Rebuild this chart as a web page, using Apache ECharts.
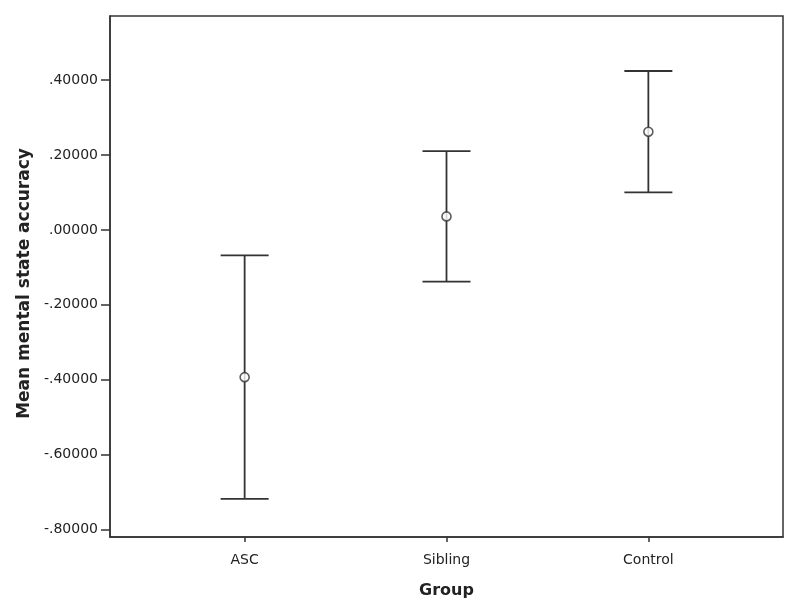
<!DOCTYPE html>
<html>
<head>
<meta charset="utf-8">
<script src="https://cdn.jsdelivr.net/npm/echarts@6/dist/echarts.min.js"></script>
<style>
  html, body { margin: 0; padding: 0; background: #fff; }
  #chart { width: 800px; height: 616px; }
</style>
</head>
<body>
<div id="chart"></div>
<script>
  // group means with 95% CI bounds
  const groups = ['ASC', 'Sibling', 'Control']
  const means = [-0.393, 0.036, 0.262]
  const lower = [-0.718, -0.138, 0.100]
  const upper = [-0.068, 0.210, 0.424]
  const yTicks = [-0.8, -0.6, -0.4, -0.2, 0, 0.2, 0.4]

  const lineColor = '#333'
  const font = 'DejaVu Sans'
  const fmt = v => {
    let s = Math.abs(v).toFixed(5).replace(/^0/, '')
    return (v < -1e-9 ? '-' : '') + s
  }

  const chart = echarts.init(document.getElementById('chart'))

  chart.setOption({
    backgroundColor: '#fff',
    animation: false,
    grid: {
      left: 110, right: 17, top: 16, bottom: 79,
      show: true, borderColor: lineColor, borderWidth: 1.5
    },
    xAxis: {
      type: 'value',
      min: -0.667,
      max: 2.667,
      name: 'Group',
      nameLocation: 'middle',
      nameGap: 46,
      nameTextStyle: { fontFamily: font, fontWeight: 'bold', fontSize: 16, color: '#222' },
      splitLine: { show: false },
      axisLine: { onZero: false, lineStyle: { color: lineColor, width: 1.5 } },
      axisTick: { length: 5, lineStyle: { color: lineColor, width: 1.5 }, customValues: [0, 1, 2] },
      axisLabel: {
        customValues: [0, 1, 2],
        formatter: v => groups[Math.round(v)],
        fontFamily: font, fontSize: 14, color: '#222', margin: 16
      }
    },
    yAxis: {
      type: 'value',
      min: -0.8195,
      max: 0.5707,
      name: 'Mean mental state accuracy',
      nameLocation: 'middle',
      nameGap: 76,
      nameTextStyle: { fontFamily: font, fontWeight: 'bold', fontSize: 17, color: '#222', padding: [0, 14, 0, 0] },
      splitLine: { show: false },
      axisLine: { onZero: false, lineStyle: { color: lineColor, width: 1.5 } },
      axisTick: { length: 9, lineStyle: { color: lineColor, width: 1.5 }, customValues: yTicks },
      axisLabel: {
        customValues: yTicks,
        formatter: fmt,
        fontFamily: font, fontSize: 14, color: '#222', margin: 12
      }
    },
    series: [
      {
        name: 'CI',
        type: 'custom',
        data: groups.map((g, i) => [i, lower[i], upper[i]]),
        renderItem: (params, api) => {
          const lo = api.coord([api.value(0), api.value(1)])
          const hi = api.coord([api.value(0), api.value(2)])
          const hw = 24
          const style = { stroke: lineColor, lineWidth: 1.8 }
          return {
            type: 'group',
            children: [
              { type: 'line', shape: { x1: lo[0], y1: lo[1], x2: hi[0], y2: hi[1] }, style },
              { type: 'line', shape: { x1: lo[0] - hw, y1: lo[1], x2: lo[0] + hw, y2: lo[1] }, style },
              { type: 'line', shape: { x1: hi[0] - hw, y1: hi[1], x2: hi[0] + hw, y2: hi[1] }, style }
            ]
          }
        },
        z: 2
      },
      {
        name: 'Mean',
        type: 'scatter',
        data: groups.map((g, i) => [i, means[i]]),
        symbol: 'circle',
        symbolSize: 9,
        itemStyle: { color: '#fff', borderColor: lineColor, borderWidth: 1.6 },
        z: 3
      }
    ]
  })
</script>
</body>
</html>
